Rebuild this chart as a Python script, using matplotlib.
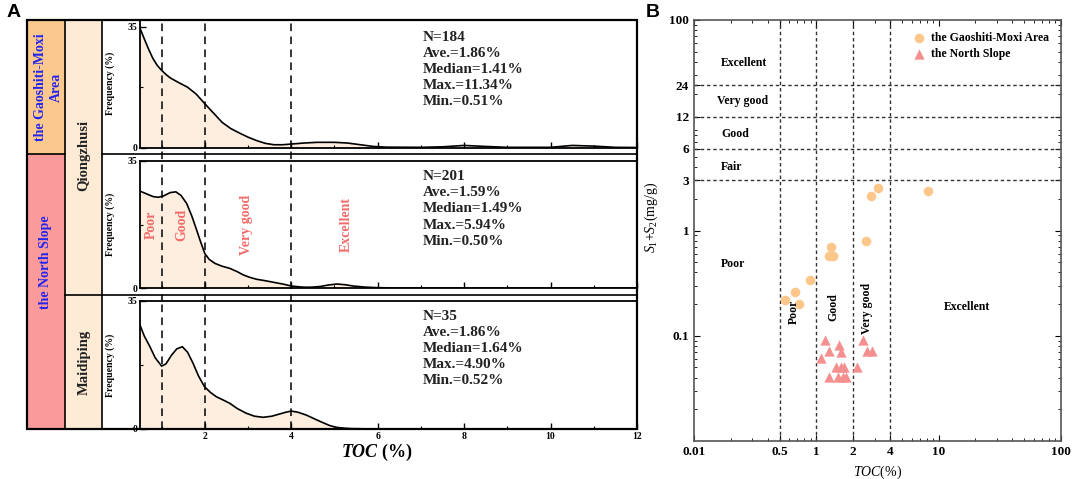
import numpy as np
import matplotlib
matplotlib.use('Agg')
import matplotlib.pyplot as plt
import matplotlib.patches as mpatch

plt.rcParams['font.family'] = ['Liberation Serif', 'DejaVu Serif']
plt.rcParams['mathtext.fontset'] = 'custom'
plt.rcParams['mathtext.rm'] = 'Liberation Serif'
plt.rcParams['mathtext.it'] = 'Liberation Serif:italic'
plt.rcParams['mathtext.bf'] = 'Liberation Serif:bold'
plt.rcParams['mathtext.bfit'] = 'Liberation Serif:italic:bold'

W, H = 1072, 479

# ---- panel A: TOC frequency curves ----
qz_gm_toc = [0.5, 0.6, 0.7, 0.8, 0.9, 1.0, 1.1, 1.2, 1.4, 1.6, 1.8, 2.0, 2.2, 2.4, 2.6,
             2.8, 3.0, 3.2, 3.4, 3.6, 3.8, 4.0, 4.3, 4.6, 5.0, 5.3, 5.6, 5.9, 6.2, 7.0,
             7.5, 8.0, 8.5, 9.0, 10.0, 10.5, 11.0, 11.5, 12.0]
qz_gm_freq = [34.6, 31.5, 28.5, 25.8, 23.8, 22.4, 21.2, 20.2, 18.8, 17.5, 15.5, 12.7, 10.0,
              7.3, 5.5, 4.2, 3.0, 2.0, 1.2, 0.8, 0.8, 1.0, 1.3, 1.5, 1.5, 1.3, 0.8, 0.3,
              0.1, 0.05, 0.2, 0.6, 0.3, 0.05, 0.05, 0.6, 0.4, 0.05, 0.0]

qz_ns_toc = [0.5, 0.6, 0.7, 0.8, 0.92, 1.05, 1.2, 1.33, 1.45, 1.58, 1.7, 1.81, 1.9, 2.0,
             2.1, 2.23, 2.4, 2.58, 2.75, 2.89, 3.05, 3.2, 3.4, 3.58, 3.8, 4.0, 4.2, 4.35,
             4.5, 4.66, 4.85, 5.05, 5.25, 5.43, 5.7, 5.97, 6.5, 12.0]
qz_ns_freq = [26.7, 26.2, 25.7, 25.2, 25.0, 25.4, 26.3, 26.5, 25.5, 23.3, 19.8, 16.0, 12.8,
              9.5, 7.9, 6.8, 6.0, 5.4, 4.5, 3.6, 2.9, 2.4, 2.0, 1.6, 1.1, 0.55, 0.3, 0.2,
              0.25, 0.4, 0.8, 1.1, 0.9, 0.55, 0.25, 0.1, 0.0, 0.0]

md_ns_toc = [0.5, 0.6, 0.73, 0.85, 1.0, 1.1, 1.23, 1.35, 1.48, 1.6, 1.73, 1.85, 1.99, 2.13,
             2.27, 2.43, 2.58, 2.75, 2.96, 3.15, 3.35, 3.55, 3.73, 3.88, 4.0, 4.15, 4.35,
             4.55, 4.74, 4.9, 5.05, 5.25, 5.42, 6.0, 12.0]
md_ns_freq = [28.4, 25.4, 22.5, 19.5, 17.2, 17.8, 20.2, 21.9, 22.5, 21.0, 17.9, 14.6, 11.6,
              10.0, 8.8, 7.9, 7.0, 5.6, 4.3, 3.5, 3.2, 3.5, 4.1, 4.6, 4.9, 4.6, 3.8, 2.7,
              1.7, 0.9, 0.45, 0.2, 0.1, 0.0, 0.0]

stats_top = ['N=184', 'Ave.=1.86%', 'Median=1.41%', 'Max.=11.34%', 'Min.=0.51%']
stats_mid = ['N=201', 'Ave.=1.59%', 'Median=1.49%', 'Max.=5.94%', 'Min.=0.50%']
stats_bot = ['N=35', 'Ave.=1.86%', 'Median=1.64%', 'Max.=4.90%', 'Min.=0.52%']

toc_cuts = [1, 2, 4]
grade_names = ['Poor', 'Good', 'Very good', 'Excellent']
grade_pos = [0.77, 1.46, 2.96, 5.28]

# ---- panel B: S1+S2 vs TOC ----
gm_toc = [0.55, 0.675, 0.72, 0.88, 1.32, 1.27, 1.37, 2.54, 2.82, 3.21, 8.2]
gm_s1s2 = [0.22, 0.26, 0.20, 0.34, 0.69, 0.57, 0.57, 0.80, 2.15, 2.54, 2.36]
ns_toc = [1.18, 1.54, 1.27, 1.59, 1.09, 1.45, 1.59, 1.69, 1.27, 1.49, 1.64, 1.74,
          2.17, 2.41, 2.61, 2.84]
ns_s1s2 = [0.092, 0.081, 0.071, 0.070, 0.061, 0.051, 0.051, 0.051, 0.041, 0.041,
           0.041, 0.041, 0.051, 0.092, 0.071, 0.071]
b_toc_cuts = [0.5, 1, 2, 4]
b_s_cuts = [3, 6, 12, 24]
b_xticks = [0.1, 0.5, 1, 2, 4, 10, 100]
b_xlabels = ['0.01', '0.5', '1', '2', '4', '10', '100']
b_yticks = [0.1, 1, 3, 6, 12, 24, 100]
b_ylabels = ['0.1', '1', '3', '6', '12', '24', '100']

fill_c = '#FDEEDF'
red_c = '#F26B6B'
blue_c = '#2424EE'


def box(x0, y0, x1, y1):
    return [x0 / W, 1 - y1 / H, (x1 - x0) / W, (y1 - y0) / H]


fig = plt.figure(figsize=(W / 100, H / 100), dpi=100)

# overlay in pixel units for the table frame and free texts
ov = fig.add_axes([0, 0, 1, 1], zorder=3)
ov.set_xlim(0, W)
ov.set_ylim(H, 0)
ov.axis('off')

ov.add_patch(mpatch.Rectangle((27, 20), 38, 134, fc='#FBC98E', ec='none'))
ov.add_patch(mpatch.Rectangle((27, 154), 38, 275, fc='#FA9A9A', ec='none'))
ov.add_patch(mpatch.Rectangle((65, 20), 37, 409, fc='#FDEBD5', ec='none'))
ov.add_patch(mpatch.Rectangle((27, 20), 610, 409, fill=False, ec='k', lw=1.6))
for xv in [65, 102]:
    ov.plot([xv, xv], [20, 429], color='k', lw=1.2)
ov.plot([27, 65], [154, 154], color='k', lw=1.2)
ov.plot([102, 637], [154, 154], color='k', lw=1.2)
ov.plot([65, 637], [295, 295], color='k', lw=1.2)

ov.text(48, 87, 'the Gaoshiti-Moxi\nArea', rotation=90, ha='center', va='center',
        color=blue_c, fontsize=10, fontweight='bold', linespacing=1.3)
ov.text(46, 262, 'the North Slope', rotation=90, ha='center', va='center',
        color=blue_c, fontsize=10, fontweight='bold')
ov.text(84, 155, 'Qiongzhusi', rotation=90, ha='center', va='center',
        color='#222222', fontsize=10.5, fontweight='bold')
ov.text(84, 362, 'Maidiping', rotation=90, ha='center', va='center',
        color='#222222', fontsize=10.5, fontweight='bold')
ov.text(14, 12, 'A', ha='center', va='center', fontsize=14, fontweight='bold',
        family='Liberation Sans')
ov.text(653, 12, 'B', ha='center', va='center', fontsize=14, fontweight='bold',
        family='Liberation Sans')

panels = [
    (box(140, 20, 637, 147.5), qz_gm_toc, qz_gm_freq, 37.0, stats_top, 37),
    (box(140, 161, 637, 288), qz_ns_toc, qz_ns_freq, 35.0, stats_mid, 177),
    (box(140, 301, 637, 429), md_ns_toc, md_ns_freq, 35.0, stats_bot, 316),
]
axes = []
for i, (rect, xs, ys, ytop, stats, ty) in enumerate(panels):
    ax = fig.add_axes(rect, zorder=1)
    ax.fill_between(xs, ys, 0, color=fill_c, lw=0)
    ax.plot(xs, ys, color='k', lw=1.2)
    ax.set_xlim(0.5, 12)
    ax.set_ylim(0, ytop)
    ax.set_xticks(range(2, 13, 2))
    ax.set_xticks(range(1, 13, 2), minor=True)
    ax.set_yticks([0, 35])
    ax.set_yticks([17.5], minor=True)
    ax.tick_params(which='both', direction='in', labelsize=7, pad=2)
    ax.tick_params(which='major', length=4, width=1)
    ax.tick_params(which='minor', length=2, width=0.8)
    for t in ax.get_yticklabels() + ax.get_xticklabels():
        t.set_fontweight('bold')
    if i < 2:
        ax.tick_params(labelbottom=False)
    ax.set_ylabel('Frequency (%)', fontsize=7, fontweight='bold', labelpad=1)
    ax.yaxis.set_label_coords(-0.05, 0.5)
    for sp in ax.spines.values():
        sp.set_linewidth(1.3)
    if i == 1:
        lo, hi = -0.11, 1.11
    else:
        lo, hi = 0, 1
    for v in toc_cuts:
        ax.axvline(v, ymin=lo, ymax=hi, color='k', ls=(0, (5, 3.5)), lw=1.1,
                   clip_on=False, zorder=5)
    for k, s in enumerate(stats):
        ov.text(423, ty + 16 * k, s, ha='left', va='center', fontsize=11,
                fontweight='bold', color='#222222')
    axes.append(ax)

for name, xpos in zip(grade_names, grade_pos):
    axes[1].text(xpos, 17.4, name, rotation=90, ha='center', va='center',
                 color=red_c, fontsize=10, fontweight='bold')

axes[2].set_xlabel(r'$\mathbfit{TOC}$ (%)', fontsize=13, fontweight='bold')
axes[2].xaxis.set_label_coords(0.477, -0.1)

# ---- panel B ----
bx = fig.add_axes(box(694, 20, 1061, 441), zorder=1)
bx.set_xscale('log')
bx.set_yscale('log')
bx.set_xlim(0.1, 100)
bx.set_ylim(0.01, 100)
for v in b_toc_cuts:
    bx.axvline(v, color='#333333', ls=(0, (2.5, 2)), lw=1.0)
for v in b_s_cuts:
    bx.axhline(v, color='#333333', ls=(0, (2.5, 2)), lw=1.0)
bx.scatter(gm_toc, gm_s1s2, s=48, marker='o', color='#FDC78C', lw=0,
           label='the Gaoshiti-Moxi Area', zorder=3)
bx.scatter(ns_toc, ns_s1s2, s=55, marker='^', color='#F59090', lw=0,
           label='the North Slope', zorder=3)
bx.set_xticks(b_xticks)
bx.set_xticklabels(b_xlabels)
bx.set_yticks(b_yticks)
bx.set_yticklabels(b_ylabels)
bx.tick_params(which='both', direction='in', top=True, right=True, labelsize=9.5)
bx.tick_params(which='major', length=4)
bx.tick_params(which='minor', length=2)
for t in bx.get_yticklabels() + bx.get_xticklabels():
    t.set_fontweight('bold')
for sp in bx.spines.values():
    sp.set_color('#555555')
    sp.set_linewidth(1.2)

bx.set_xlabel(r'$\mathit{TOC}$(%)', fontsize=10, labelpad=4)
bx.set_ylabel(r'$S_1$+$S_2$(mg/g)', fontsize=10)
bx.yaxis.set_label_coords(-0.093, 0.53)

for s, xx, yy in [('Excellent', 0.166, 39), ('Very good', 0.154, 17.1),
                  ('Good', 0.166, 8.3), ('Fair', 0.166, 3.98), ('Poor', 0.166, 0.48)]:
    bx.text(xx, yy, s, ha='left', va='center', fontsize=8.5, fontweight='bold')
bx.text(0.66, 0.168, 'Poor', rotation=90, ha='center', va='center', fontsize=8.5,
        fontweight='bold')
bx.text(1.38, 0.187, 'Good', rotation=90, ha='center', va='center', fontsize=8.5,
        fontweight='bold')
bx.text(2.61, 0.18, 'Very good', rotation=90, ha='center', va='center', fontsize=8.5,
        fontweight='bold')
bx.text(17, 0.187, 'Excellent', ha='center', va='center', fontsize=8.5,
        fontweight='bold')

leg = bx.legend(loc='upper right', frameon=False, fontsize=8.5, handletextpad=0.4,
                labelspacing=0.35, borderaxespad=0.6, handlelength=1.2)
for t in leg.get_texts():
    t.set_fontweight('bold')

fig.savefig('out.png', dpi=100)
